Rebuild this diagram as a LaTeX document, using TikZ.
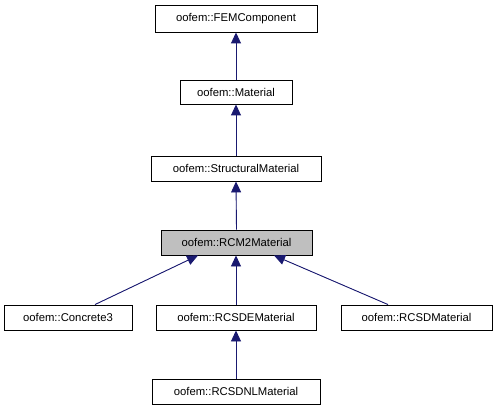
\documentclass[tikz,border=0pt]{standalone}
\usepackage{fontspec}
\setmainfont{Liberation Sans}
\usetikzlibrary{arrows.meta}
\definecolor{edgeblue}{HTML}{191970}
\definecolor{hlgray}{HTML}{BFBFBF}
\begin{document}
\begin{tikzpicture}[x=1pt,y=-1pt,
  cls/.style={draw=black, line width=0.9pt, fill=white, inner sep=0pt,
    minimum height=25pt, font=\fontsize{11.3}{13}\selectfont},
  inh/.style={draw=edgeblue, line width=0.9pt, -{Triangle[length=11pt,width=10pt]}, fill=edgeblue}]
\useasboundingbox (0,0) rectangle (497,411);
\node[cls, minimum width=162pt, minimum height=27pt] (fem) at (236,18.5) {oofem::FEMComponent};
\node[cls, minimum width=112pt, minimum height=24pt] (mat) at (236,92) {oofem::Material};
\node[cls, minimum width=170pt] (sm) at (236,168.5) {oofem::StructuralMaterial};
\node[cls, minimum width=151pt, fill=hlgray] (rcm) at (236.5,242.5) {oofem::RCM2Material};
\node[cls, minimum width=128pt] (c3) at (68,317.5) {oofem::Concrete3};
\node[cls, minimum width=160pt] (rde) at (236,317.5) {oofem::RCSDEMaterial};
\node[cls, minimum width=151pt] (rsd) at (416.5,317.5) {oofem::RCSDMaterial};
\node[cls, minimum width=168pt] (rnl) at (236,391.5) {oofem::RCSDNLMaterial};
\draw[inh] (mat.north) -- (fem.south);
\draw[inh] (sm.north) -- (mat.south);
\draw[inh] (rcm.north) -- (sm.south);
\draw[inh] ([xshift=27pt]c3.north) -- ([xshift=-38.5pt]rcm.south);
\draw[inh] (rde.north) -- (rde.north |- rcm.south);
\draw[inh] ([xshift=-28.5pt]rsd.north) -- ([xshift=37.5pt]rcm.south);
\draw[inh] (rnl.north) -- (rde.south);
\end{tikzpicture}
\end{document}
